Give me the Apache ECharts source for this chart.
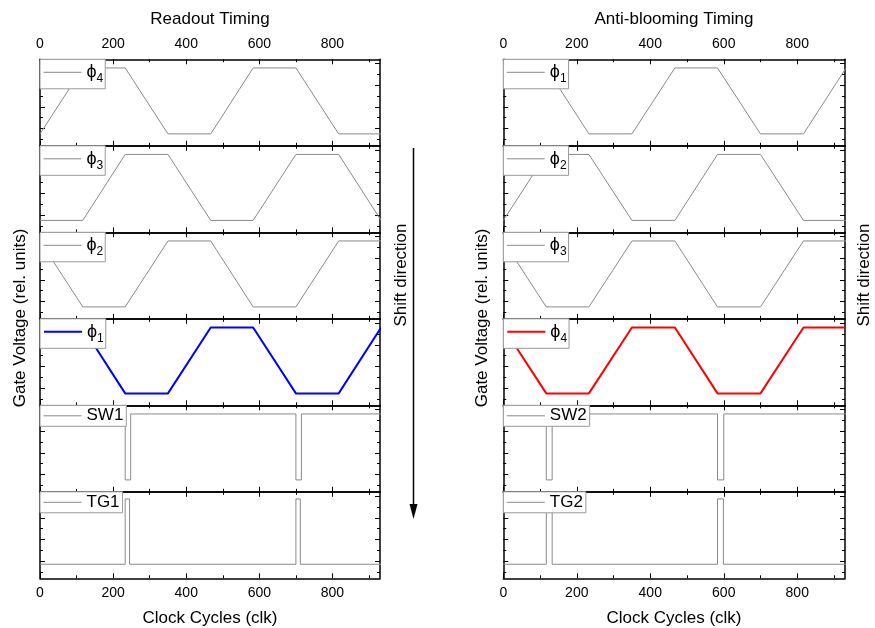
<!DOCTYPE html>
<html>
<head>
<meta charset="utf-8">
<script src="https://cdn.jsdelivr.net/npm/echarts@6/dist/echarts.min.js"></script>
<style>html,body{margin:0;padding:0;background:#fff}#c{width:875px;height:628px}</style>
</head>
<body>
<div id="c"></div>
<script>
// ---------- data ----------
const xMax = 930;
const xMajorTicks = [0, 200, 400, 600, 800];
const xMinorTicks = [100, 300, 500, 700, 900];
const yMajorTicks = [0, 1, 2, 3];
const yMinorTicks = [-0.5, 0.5, 1.5, 2.5];

// clock breakpoints of the trapezoidal phase waveforms
const phaseX = [0, 117, 233, 350, 467, 583, 700, 817, 933];

// Readout timing
const readoutPhi4 = [-0.25, 2.8, 2.8, -0.25, -0.25, 2.8, 2.8, -0.25, -0.25];
const readoutPhi3 = [-0.25, -0.25, 2.8, 2.8, -0.25, -0.25, 2.8, 2.8, -0.25];
const readoutPhi2 = [2.8, -0.25, -0.25, 2.8, 2.8, -0.25, -0.25, 2.8, 2.8];
const readoutPhi1 = [2.8, 2.8, -0.25, -0.25, 2.8, 2.8, -0.25, -0.25, 2.8];
const sw1X = [0, 233, 233, 248, 248, 700, 700, 715, 715, 933];
const sw1Y = [2.8, 2.8, -0.25, -0.25, 2.8, 2.8, -0.25, -0.25, 2.8, 2.8];
const tg1X = [0, 233, 233, 245, 245, 700, 700, 712, 712, 933];
const tg1Y = [-0.15, -0.15, 2.87, 2.87, -0.15, -0.15, 2.87, 2.87, -0.15, -0.15];

// Anti-blooming timing
const abPhi1 = [2.8, 2.8, -0.25, -0.25, 2.8, 2.8, -0.25, -0.25, 2.8];
const abPhi2 = [-0.25, 2.8, 2.8, -0.25, -0.25, 2.8, 2.8, -0.25, -0.25];
const abPhi3 = [2.8, -0.25, -0.25, 2.8, 2.8, -0.25, -0.25, 2.8, 2.8];
const abPhi4 = [2.8, -0.25, -0.25, 2.8, 2.8, -0.25, -0.25, 2.8, 2.8];
const sw2X = [0, 117, 117, 133, 133, 583, 583, 600, 600, 933];
const sw2Y = [2.8, 2.8, -0.25, -0.25, 2.8, 2.8, -0.25, -0.25, 2.8, 2.8];
const tg2X = [0, 117, 117, 133, 133, 583, 583, 599, 599, 933];
const tg2Y = [-0.15, -0.15, 2.87, 2.87, -0.15, -0.15, 2.87, 2.87, -0.15, -0.15];

// ---------- layout / style ----------
const FONT = '"Liberation Sans", Arial, sans-serif';
const GRAY = '#8a8a8a';
const colLeft = [40, 503.3];
const colWidth = [340, 341.7];
const top0 = 59.3, ph = 86.5;

const panels = [
  {id:'L1', col:0, row:0, label:'ϕ', sub:'4', x:phaseX, y:readoutPhi4, color:GRAY, w:1},
  {id:'L2', col:0, row:1, label:'ϕ', sub:'3', x:phaseX, y:readoutPhi3, color:GRAY, w:1},
  {id:'L3', col:0, row:2, label:'ϕ', sub:'2', x:phaseX, y:readoutPhi2, color:GRAY, w:1},
  {id:'L4', col:0, row:3, label:'ϕ', sub:'1', x:phaseX, y:readoutPhi1, color:'#0000ff', w:2},
  {id:'L5', col:0, row:4, label:'SW1', sub:'', x:sw1X, y:sw1Y, color:GRAY, w:1},
  {id:'L6', col:0, row:5, label:'TG1', sub:'', x:tg1X, y:tg1Y, color:GRAY, w:1},
  {id:'R1', col:1, row:0, label:'ϕ', sub:'1', x:phaseX, y:abPhi1, color:GRAY, w:1},
  {id:'R2', col:1, row:1, label:'ϕ', sub:'2', x:phaseX, y:abPhi2, color:GRAY, w:1},
  {id:'R3', col:1, row:2, label:'ϕ', sub:'3', x:phaseX, y:abPhi3, color:GRAY, w:1},
  {id:'R4', col:1, row:3, label:'ϕ', sub:'4', x:phaseX, y:abPhi4, color:'#ff0000', w:2},
  {id:'R5', col:1, row:4, label:'SW2', sub:'', x:sw2X, y:sw2Y, color:GRAY, w:1},
  {id:'R6', col:1, row:5, label:'TG2', sub:'', x:tg2X, y:tg2Y, color:GRAY, w:1}
];

const grids = [], xAxes = [], yAxes = [], series = [], legends = [];
const frameLine = {show:true, onZero:false, lineStyle:{color:'#000', width:1.5}};
const noLine = {show:false, onZero:false};

panels.forEach((p, g) => {
  const left = colLeft[p.col], top = top0 + p.row * ph;
  grids.push({left:left, top:top, width:colWidth[p.col], height:ph, containLabel:false, outerBoundsMode:'none'});
  const xb = {type:'value', gridIndex:g, min:0, max:xMax, splitLine:{show:false}, minorTick:{show:false}};
  const lbl = (show) => ({show:show, customValues:xMajorTicks, color:'#000', fontSize:14, fontFamily:FONT, margin:8});
  xAxes.push(Object.assign({}, xb, {position:'bottom', axisLine:frameLine,
    axisTick:{show:true, inside:true, length:5, customValues:xMajorTicks, lineStyle:{color:'#000', width:1}},
    axisLabel:lbl(p.row === 5)}));
  xAxes.push(Object.assign({}, xb, {position:'bottom', axisLine:noLine,
    axisTick:{show:true, inside:true, length:3, customValues:xMinorTicks, lineStyle:{color:'#000', width:1}},
    axisLabel:{show:false}}));
  xAxes.push(Object.assign({}, xb, {position:'top', axisLine:frameLine,
    axisTick:{show:true, inside:true, length:5, customValues:xMajorTicks, lineStyle:{color:'#000', width:1}},
    axisLabel:lbl(p.row === 0)}));
  xAxes.push(Object.assign({}, xb, {position:'top', axisLine:noLine,
    axisTick:{show:true, inside:true, length:3, customValues:xMinorTicks, lineStyle:{color:'#000', width:1}},
    axisLabel:{show:false}}));

  const yb = {type:'value', gridIndex:g, min:-0.8, max:3.2, splitLine:{show:false}, minorTick:{show:false}, axisLabel:{show:false}};
  ['left', 'right'].forEach(pos => {
    yAxes.push(Object.assign({}, yb, {position:pos, axisLine:frameLine,
      axisTick:{show:true, inside:true, length:5, customValues:yMajorTicks, lineStyle:{color:'#000', width:1}}}));
    yAxes.push(Object.assign({}, yb, {position:pos, axisLine:noLine,
      axisTick:{show:true, inside:true, length:3, customValues:yMinorTicks, lineStyle:{color:'#000', width:1}}}));
  });

  series.push({
    name:p.id, type:'line', xAxisIndex:4 * g, yAxisIndex:4 * g,
    data:p.x.map((v, i) => [v, p.y[i]]),
    symbol:'none', showSymbol:false, smooth:false,
    lineStyle:{color:p.color, width:p.w}, itemStyle:{color:p.color},
    emphasis:{disabled:true}, silent:true, animation:false
  });

  legends.push({
    show:true, data:[p.id], left:left, top:top, orient:'horizontal',
    padding: p.sub ? [4, 2, 4, 3] : [2, 3, 2, 3],
    itemWidth:38, itemHeight:14, itemGap:0,
    backgroundColor:'#fff', borderColor:'#999', borderWidth:1, borderRadius:0,
    selectedMode:false,
    itemStyle:{opacity:0, borderWidth:0},
    lineStyle:{width:p.w, color:p.color},
    formatter: () => p.sub ? '{p|' + p.label + '}{s|' + p.sub + '}' : p.label,
    textStyle:{color:'#000', fontSize:17, fontFamily:FONT,
      rich:{
        p:{fontSize:18, fontFamily:FONT, color:'#000', lineHeight:25, verticalAlign:'middle'},
        s:{fontSize:12, fontFamily:FONT, color:'#000', lineHeight:12, verticalAlign:'bottom'}
      }}
  });
});

function txt(text, x, y, rot) {
  return {type:'text', x:x, y:y, rotation:rot || 0, silent:true,
    style:{text:text, font:'17px ' + FONT, fill:'#000',
      align:'center', verticalAlign:'middle', textAlign:'center', textVerticalAlign:'middle'}};
}

const graphic = [
  txt('Readout Timing', 210, 19),
  txt('Anti-blooming Timing', 674, 19),
  txt('Clock Cycles (clk)', 210, 618),
  txt('Clock Cycles (clk)', 674, 618),
  txt('Gate Voltage (rel. units)', 20, 318, Math.PI / 2),
  txt('Gate Voltage (rel. units)', 482, 318, Math.PI / 2),
  txt('Shift direction', 401, 275, Math.PI / 2),
  txt('Shift direction', 864, 275, Math.PI / 2),
  {type:'line', silent:true, shape:{x1:413.5, y1:148, x2:413.5, y2:508}, style:{stroke:'#000', lineWidth:1.5}},
  {type:'polygon', silent:true, shape:{points:[[409.5, 504], [417.5, 504], [413.5, 519]]}, style:{fill:'#000'}}
];

const chart = echarts.init(document.getElementById('c'), null, {renderer:'canvas'});
chart.setOption({
  animation:false,
  backgroundColor:'#fff',
  grid:grids, xAxis:xAxes, yAxis:yAxes, series:series, legend:legends,
  graphic:graphic
});
</script>
</body>
</html>
